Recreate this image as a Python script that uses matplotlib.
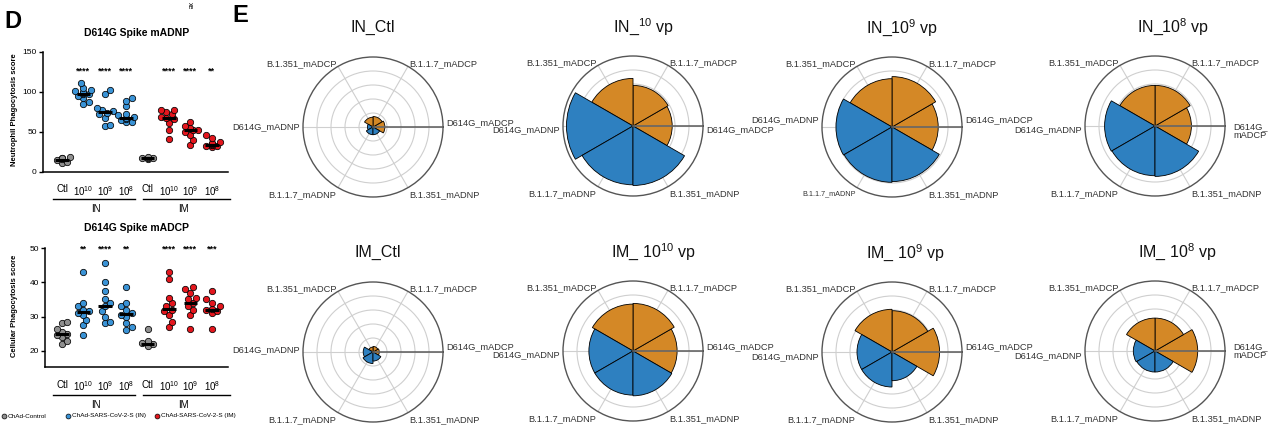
import numpy as np
import matplotlib
matplotlib.use("Agg")
import matplotlib.pyplot as plt
from matplotlib.lines import Line2D

plt.rcParams["font.family"] = ["Liberation Sans", "DejaVu Sans"]
plt.rcParams["mathtext.fontset"] = "custom"
plt.rcParams["mathtext.rm"] = "Liberation Sans"
plt.rcParams["mathtext.default"] = "regular"

W, H = 1279, 429

# ---- panel D: phagocytosis scores per animal ----
groups = ["Ctl", "10$^{10}$", "10$^{9}$", "10$^{8}$", "Ctl", "10$^{10}$", "10$^{9}$", "10$^{8}$"]
group_kind = ["ctl", "in", "in", "in", "ctl", "im", "im", "im"]

adnp_scores = [
    [11, 13, 15, 16, 17, 18, 19],
    [85, 88, 92, 95, 97, 98, 99, 100, 101, 103, 105, 111],
    [57, 59, 68, 72, 74, 76, 78, 80, 97, 102],
    [62, 63, 65, 66, 68, 69, 71, 73, 82, 89, 93],
    [16, 17, 17.5, 18, 19],
    [41, 53, 61, 66, 67, 69, 72, 75, 77, 78],
    [34, 40, 46, 50, 52, 53, 55, 58, 63],
    [31, 32, 33, 33.5, 34, 35, 36, 38, 43, 46],
]
adnp_medians = [15, 98, 75, 68, 17.5, 68, 52, 34]
adnp_stars = ["", "****", "****", "****", "", "****", "****", "**"]

adcp_scores = [
    [22, 23, 24, 24.5, 25, 25.5, 26.5, 28.2, 28.5],
    [24.5, 27.5, 29, 30.5, 31, 31.5, 32, 33, 34, 43],
    [28, 28.5, 30, 31.5, 33, 34, 35, 37.5, 40, 45.5],
    [26, 27, 28, 30, 30.5, 31, 32, 33, 34, 38.5],
    [21.5, 22, 22.3, 22.8, 26.3],
    [27, 28.5, 30.5, 31.5, 32, 33, 34, 35.5, 41, 43],
    [26.3, 30.5, 32, 33, 34, 35, 35.5, 37, 38, 38.5],
    [26.5, 31, 31.5, 32, 32.2, 33, 34, 35, 37.5],
]
adcp_medians = [25, 31.2, 33, 30.7, 22, 32.2, 34, 32]
adcp_stars = ["", "**", "****", "**", "", "****", "****", "***"]

# ---- panel E: normalised polar scores ----
features = ["D614G_mADCP", "B.1.1.7_mADCP", "B.1.351_mADCP",
            "D614G_mADNP", "B.1.1.7_mADNP", "B.1.351_mADNP"]
feature_angles = [0, 60, 120, 180, 240, 300]
feature_kind = ["adcp", "adcp", "adcp", "adnp", "adnp", "adnp"]

polar_titles = ["IN_Ctl", "IN_$^{10}$ vp", "IN_10$^{9}$ vp", "IN_10$^{8}$ vp",
                "IM_Ctl", "IM_ 10$^{10}$ vp", "IM_ 10$^{9}$ vp", "IM_ 10$^{8}$ vp"]
in_ctl = [0.17, 0.15, 0.14, 0.08, 0.11, 0.11]
in_1e10 = [0.56, 0.58, 0.68, 0.95, 0.84, 0.85]
in_1e9 = [0.66, 0.72, 0.69, 0.80, 0.79, 0.78]
in_1e8 = [0.52, 0.58, 0.58, 0.72, 0.71, 0.72]
im_ctl = [0.09, 0.08, 0.07, 0.14, 0.165, 0.13]
im_1e10 = [0.63, 0.68, 0.67, 0.63, 0.63, 0.64]
im_1e9 = [0.68, 0.59, 0.61, 0.50, 0.50, 0.41]
im_1e8 = [0.61, 0.47, 0.47, 0.31, 0.30, 0.30]
polar_values = [in_ctl, in_1e10, in_1e9, in_1e8, im_ctl, im_1e10, im_1e9, im_1e8]

dot_colors = {"ctl": "#8f8f8f", "in": "#3a93d6", "im": "#e3161d"}
wedge_colors = {"adcp": "#d48826", "adnp": "#2e80c0"}

fig = plt.figure(figsize=(W / 100, H / 100), dpi=100)


def fx(x):
    return x / W


def fy(y):
    return 1 - y / H


def swarm(vals, ppu_x, ppu_y, d=5.4, max_off=9.0):
    # greedy beeswarm in pixel space, alternating sides
    placed = []
    out = [0.0] * len(vals)
    flip = 1
    for i in sorted(range(len(vals)), key=lambda k: vals[k]):
        y = vals[i] * ppu_y
        pos = 0.0
        for k in range(30):
            cands = [0.0] if k == 0 else [flip * k * d / 2, -flip * k * d / 2]
            ok = [c for c in cands if abs(c) <= max_off and
                  all((c - px) ** 2 + (y - py) ** 2 >= d * d for px, py in placed)]
            if ok:
                pos = ok[0]
                break
            if k * d / 2 > max_off:
                pos = 0.0
                break
        if pos != 0:
            flip = -flip
        placed.append((pos, y))
        out[i] = pos / ppu_x
    return out


def dot_panel(left, top, right, bottom, scores, medians, stars, star_y,
              ylim, yticks, title, ylabel, title_y, line_y, grp_y):
    ax = fig.add_axes([fx(left), fy(bottom), (right - left) / W, (bottom - top) / H])
    step = 21.4
    ax.set_xlim(1 + (left - 62) / step, 1 + (right - 62) / step)
    ax.set_ylim(*ylim)
    ppu_y = (bottom - top) / (ylim[1] - ylim[0])
    for i, vals in enumerate(scores):
        x0 = i + 1
        offs = swarm(vals, step, ppu_y)
        ax.scatter(x0 + np.array(offs), vals, s=21, color=dot_colors[group_kind[i]],
                   edgecolor="black", linewidth=0.55, zorder=3, clip_on=False)
        ax.plot([x0 - 0.32, x0 + 0.32], [medians[i]] * 2, color="black", lw=2.2,
                zorder=4, solid_capstyle="butt")
        if stars[i]:
            ax.text(x0, star_y, stars[i], ha="center", va="center", fontsize=6.5,
                    fontweight="bold")
    for s in ["top", "right"]:
        ax.spines[s].set_visible(False)
    for s in ["left", "bottom"]:
        ax.spines[s].set_linewidth(1.1)
    ax.set_yticks(yticks)
    ax.tick_params(axis="y", labelsize=6, length=3, width=1, pad=1.5)
    ax.set_xticks(range(1, 9))
    ax.set_xticklabels(groups, fontsize=7)
    ax.tick_params(axis="x", length=0, pad=9)
    fig.text(fx(137), fy(title_y), title, ha="center", va="center", fontsize=7.5,
             fontweight="bold")
    fig.text(fx(15), fy((top + bottom) / 2 - 2), ylabel, ha="center", va="center",
             rotation=90, fontsize=5.5, fontweight="bold")
    for x1, x2, lab, xc in [(53, 135, "IN", 96), (143, 230, "IM", 183)]:
        fig.add_artist(Line2D([fx(x1), fx(x2)], [fy(line_y)] * 2, color="black",
                              lw=1.0, transform=fig.transFigure))
        fig.text(fx(xc), fy(grp_y), lab, ha="center", va="center", fontsize=7)


dot_panel(43, 52, 228, 172, adnp_scores, adnp_medians, adnp_stars, 126,
          (0, 150), [0, 50, 100, 150], "D614G Spike mADNP",
          "Neutrophil Phagocytosis score", 33, 199, 209)
dot_panel(45, 248, 228, 367, adcp_scores, adcp_medians, adcp_stars, 49.8,
          (15.3, 50), [20, 30, 40, 50], "D614G Spike mADCP",
          "Cellular Phagocytosis score", 228, 395, 405)

# legend row under panel D
legend_items = [(4, "ctl", "ChAd-Control"), (68, "in", "ChAd-SARS-CoV-2-S (IN)"),
                (157, "im", "ChAd-SARS-CoV-2-S (IM)")]
for x, kind, lab in legend_items:
    fig.add_artist(Line2D([fx(x)], [fy(416)], marker="o", markersize=3.5,
                          markerfacecolor=dot_colors[kind], markeredgecolor="black",
                          markeredgewidth=0.5, transform=fig.transFigure))
    fig.text(fx(x + 4), fy(416), lab, ha="left", va="center", fontsize=4.6)

fig.text(fx(13), fy(21), "D", ha="center", va="center", fontsize=17, fontweight="bold")
fig.text(fx(240), fy(16), "E", ha="center", va="center", fontsize=17, fontweight="bold")
fig.text(fx(189), fy(6), "xe", ha="center", va="center", fontsize=5, rotation=270)

# ---- panel E: polar bar charts ----
centers = [(373, 127), (633, 126), (892, 127), (1155, 126),
           (373, 352), (633, 351), (892, 352), (1155, 351)]
title_pos = [(373, 27), (643, 27), (902, 28), (1173, 27),
             (378, 252), (653, 252), (905, 253), (1177, 252)]
# vertical nudges (px) of the 0 deg and 180 deg labels
nudge0 = [-4, 4, -7, 5, -5, -4, -5, 0]
nudge180 = [0, 4, -7, 4, -2, 4, 5, 5]
R = 70

theta = np.deg2rad(feature_angles)
for p, (cx, cy) in enumerate(centers):
    ax = fig.add_axes([fx(cx - R), fy(cy + R), 2 * R / W, 2 * R / H], projection="polar")
    ax.set_ylim(0, 1)
    ax.set_axisbelow(True)
    ax.bar(theta, polar_values[p], width=np.deg2rad(60),
           color=[wedge_colors[k] for k in feature_kind],
           edgecolor="black", linewidth=0.6, zorder=2)
    ax.set_rticks([0.2, 0.4, 0.6, 0.8])
    ax.set_yticklabels([])
    ax.set_thetagrids(feature_angles, labels=[""] * 6)
    ax.grid(color="#cfcfcf", lw=0.8)
    ax.spines["polar"].set_color("#555555")
    ax.spines["polar"].set_linewidth(1.0)
    ax.plot([0, 0], [0, 1], color="#666666", lw=1.2, zorder=3)

    for j, (name, ang) in enumerate(zip(features, feature_angles)):
        fs = 6.7
        txt = name
        if ang == 0:
            ha, va, off = "left", "center", (2, -nudge0[p] * 0.72)
            if p in (3, 7):
                txt = "D614G_\nmADCP"
                off = (6, off[1])
        elif ang == 180:
            ha, va, off = "right", "center", (-2, -nudge180[p] * 0.72)
        elif ang == 60:
            ha, va, off = "left", "bottom", (1, -1)
        elif ang == 120:
            ha, va, off = "right", "bottom", (-1, -1)
        elif ang == 240:
            ha, va, off = "right", "top", (-1, -2)
            if p == 2:
                fs = 5.2
        else:
            ha, va, off = "left", "top", (1, -2)
        ax.annotate(txt, xy=(np.deg2rad(ang), 1.0), xytext=off,
                    textcoords="offset points", ha=ha, va=va, fontsize=fs,
                    color="#333333", annotation_clip=False, linespacing=1.0)

    tx, ty = title_pos[p]
    fig.text(fx(tx), fy(ty), polar_titles[p], ha="center", va="center",
             fontsize=11.5, color="#111111")

fig.savefig("out.png", dpi=100)
